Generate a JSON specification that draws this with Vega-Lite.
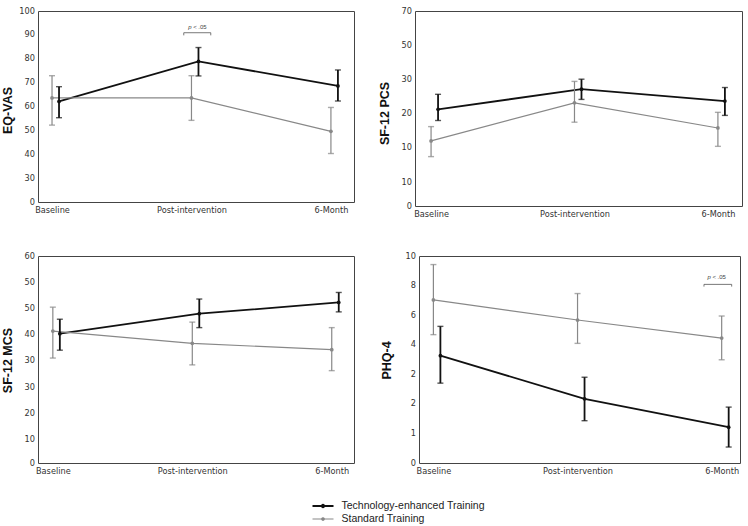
{
  "$schema": "https://vega.github.io/schema/vega-lite/v6.json",
  "padding": {"left": 0, "top": 5, "right": 0, "bottom": 0},
  "background": "white",
  "datasets": {
    "main": [
      {"measure": "EQ-VAS", "time": "Baseline", "group": "Technology-enhanced Training", "mean": 62.1, "lo": 55.3, "hi": 68.3},
      {"measure": "EQ-VAS", "time": "Post-intervention", "group": "Technology-enhanced Training", "mean": 78.9, "lo": 72.8, "hi": 84.7},
      {"measure": "EQ-VAS", "time": "6-Month", "group": "Technology-enhanced Training", "mean": 68.6, "lo": 62.3, "hi": 75.3},
      {"measure": "EQ-VAS", "time": "Baseline", "group": "Standard Training", "mean": 63.6, "lo": 52.2, "hi": 72.9},
      {"measure": "EQ-VAS", "time": "Post-intervention", "group": "Standard Training", "mean": 63.6, "lo": 54.2, "hi": 72.9},
      {"measure": "EQ-VAS", "time": "6-Month", "group": "Standard Training", "mean": 49.6, "lo": 40.3, "hi": 59.6},
      {"measure": "SF-12 PCS", "time": "Baseline", "group": "Technology-enhanced Training", "mean": 21.3, "lo": 18.0, "hi": 25.7},
      {"measure": "SF-12 PCS", "time": "Post-intervention", "group": "Technology-enhanced Training", "mean": 27.2, "lo": 24.2, "hi": 30.3},
      {"measure": "SF-12 PCS", "time": "6-Month", "group": "Technology-enhanced Training", "mean": 23.7, "lo": 19.5, "hi": 27.7},
      {"measure": "SF-12 PCS", "time": "Baseline", "group": "Standard Training", "mean": 12.0, "lo": 8.7, "hi": 16.2},
      {"measure": "SF-12 PCS", "time": "Post-intervention", "group": "Standard Training", "mean": 23.2, "lo": 17.5, "hi": 29.5},
      {"measure": "SF-12 PCS", "time": "6-Month", "group": "Standard Training", "mean": 15.8, "lo": 10.4, "hi": 20.4},
      {"measure": "SF-12 MCS", "time": "Baseline", "group": "Technology-enhanced Training", "mean": 40.4, "lo": 34.1, "hi": 45.9},
      {"measure": "SF-12 MCS", "time": "Post-intervention", "group": "Technology-enhanced Training", "mean": 48.0, "lo": 42.7, "hi": 53.6},
      {"measure": "SF-12 MCS", "time": "6-Month", "group": "Technology-enhanced Training", "mean": 52.3, "lo": 48.7, "hi": 56.1},
      {"measure": "SF-12 MCS", "time": "Baseline", "group": "Standard Training", "mean": 41.4, "lo": 31.1, "hi": 50.5},
      {"measure": "SF-12 MCS", "time": "Post-intervention", "group": "Standard Training", "mean": 36.7, "lo": 28.5, "hi": 44.8},
      {"measure": "SF-12 MCS", "time": "6-Month", "group": "Standard Training", "mean": 34.3, "lo": 26.3, "hi": 42.7},
      {"measure": "PHQ-4", "time": "Baseline", "group": "Technology-enhanced Training", "mean": 3.63, "lo": 2.70, "hi": 5.24},
      {"measure": "PHQ-4", "time": "Post-intervention", "group": "Technology-enhanced Training", "mean": 2.17, "lo": 1.43, "hi": 2.90},
      {"measure": "PHQ-4", "time": "6-Month", "group": "Technology-enhanced Training", "mean": 1.21, "lo": 0.54, "hi": 1.89},
      {"measure": "PHQ-4", "time": "Baseline", "group": "Standard Training", "mean": 7.03, "lo": 4.68, "hi": 9.42},
      {"measure": "PHQ-4", "time": "Post-intervention", "group": "Standard Training", "mean": 5.67, "lo": 4.09, "hi": 7.46},
      {"measure": "PHQ-4", "time": "6-Month", "group": "Standard Training", "mean": 4.45, "lo": 3.49, "hi": 5.94}
    ],
    "annot1": [{"measure": "EQ-VAS", "time": "Post-intervention", "ybar": 90.9, "yend": 89.8, "ytext": 93.4, "p": "p", "rest": "< .05"}],
    "annot4": [{"measure": "PHQ-4", "time": "6-Month", "ybar": 8.08, "yend": 7.93, "ytext": 8.55, "p": "p", "rest": "< .05"}]
  },
  "spacing": 32,
  "vconcat": [
    {
      "spacing": 22,
      "hconcat": [
        {
          "width": 316, "height": 191,
          "data": {"name": "main"},
          "transform": [{"filter": "datum.measure === 'EQ-VAS'"}],
          "encoding": {
            "x": {"field": "time", "type": "ordinal", "sort": ["Baseline", "Post-intervention", "6-Month"], "scale": {"type": "point", "padding": 0.133, "align": 0.378}, "axis": {"title": null, "labelAngle": 0, "labelOverlap": false}},
            "y": {"field": "mean", "type": "quantitative", "scale": {"domain": [0, 30, 100], "range": [191, 167.125, 0], "nice": false, "zero": false}, "axis": {"title": "EQ-VAS", "values": [0, 30, 40, 50, 60, 70, 80, 90, 100], "labelOverlap": false, "titleX": -27, "titleY": 99, "titleBaseline": "alphabetic", "titleAlign": "center"}}
          },
          "layer": [
            {"mark": {"type": "line"}, "encoding": {
              "xOffset": {"field": "group", "type": "nominal", "scale": {"type": "point", "domain": ["Standard Training", "Technology-enhanced Training"], "range": [0, 7], "padding": 0}},
              "color": {"field": "group", "type": "nominal", "scale": {"domain": ["Technology-enhanced Training", "Standard Training"], "range": ["#111111", "#888888"]}, "legend": {"orient": "none", "legendX": 273.5, "legendY": 489.5, "title": null, "direction": "vertical", "symbolType": "M-1,0H1M-0.12,0A0.12,0.12,0,1,1,0.12,0A0.12,0.12,0,1,1,-0.12,0Z", "symbolSize": 441, "labelFont": "Liberation Sans", "labelFontSize": 10.5, "labelColor": "#222", "clipHeight": 11, "rowPadding": 2, "labelOffset": 7}},
              "strokeWidth": {"field": "group", "type": "ordinal", "scale": {"domain": ["Technology-enhanced Training", "Standard Training"], "range": [1.8, 1.2]}, "legend": null}}},
            {"mark": {"type": "rule"}, "encoding": {
              "xOffset": {"field": "group", "type": "nominal", "scale": {"type": "point", "domain": ["Standard Training", "Technology-enhanced Training"], "range": [0, 7], "padding": 0}},
              "color": {"field": "group", "type": "nominal", "scale": {"domain": ["Technology-enhanced Training", "Standard Training"], "range": ["#111111", "#888888"]}, "legend": null},
              "y": {"field": "lo", "type": "quantitative"}, "y2": {"field": "hi"},
              "strokeWidth": {"field": "group", "type": "ordinal", "scale": {"domain": ["Technology-enhanced Training", "Standard Training"], "range": [1.8, 1.2]}, "legend": null}}},
            {"mark": {"type": "tick", "size": 6, "thickness": 1.4}, "encoding": {
              "xOffset": {"field": "group", "type": "nominal", "scale": {"type": "point", "domain": ["Standard Training", "Technology-enhanced Training"], "range": [0, 7], "padding": 0}},
              "color": {"field": "group", "type": "nominal", "scale": {"domain": ["Technology-enhanced Training", "Standard Training"], "range": ["#111111", "#888888"]}, "legend": null},
              "y": {"field": "lo", "type": "quantitative"}}},
            {"mark": {"type": "tick", "size": 6, "thickness": 1.4}, "encoding": {
              "xOffset": {"field": "group", "type": "nominal", "scale": {"type": "point", "domain": ["Standard Training", "Technology-enhanced Training"], "range": [0, 7], "padding": 0}},
              "color": {"field": "group", "type": "nominal", "scale": {"domain": ["Technology-enhanced Training", "Standard Training"], "range": ["#111111", "#888888"]}, "legend": null},
              "y": {"field": "hi", "type": "quantitative"}}},
            {"mark": {"type": "point", "filled": true, "opacity": 1, "size": 14}, "encoding": {
              "xOffset": {"field": "group", "type": "nominal", "scale": {"type": "point", "domain": ["Standard Training", "Technology-enhanced Training"], "range": [0, 7], "padding": 0}},
              "color": {"field": "group", "type": "nominal", "scale": {"domain": ["Technology-enhanced Training", "Standard Training"], "range": ["#111111", "#888888"]}, "legend": null}}},
            {"data": {"name": "annot1"}, "mark": {"type": "rule", "xOffset": -7.7, "x2Offset": 19.3, "color": "#555555", "strokeWidth": 0.8}, "encoding": {"x2": {"field": "time"}, "y": {"field": "ybar", "type": "quantitative"}}},
            {"data": {"name": "annot1"}, "mark": {"type": "rule", "xOffset": -7.7, "color": "#555555", "strokeWidth": 0.8}, "encoding": {"y": {"field": "ybar", "type": "quantitative"}, "y2": {"field": "yend"}}},
            {"data": {"name": "annot1"}, "mark": {"type": "rule", "xOffset": 19.3, "color": "#555555", "strokeWidth": 0.8}, "encoding": {"y": {"field": "ybar", "type": "quantitative"}, "y2": {"field": "yend"}}},
            {"data": {"name": "annot1"}, "mark": {"type": "text", "align": "left", "baseline": "middle", "xOffset": -3.3, "fontStyle": "italic", "font": "Liberation Sans", "fontSize": 6, "color": "#444444"}, "encoding": {"y": {"field": "ytext", "type": "quantitative"}, "text": {"field": "p"}}},
            {"data": {"name": "annot1"}, "mark": {"type": "text", "align": "left", "baseline": "middle", "xOffset": 1.7, "font": "Liberation Sans", "fontSize": 6, "color": "#444444"}, "encoding": {"y": {"field": "ytext", "type": "quantitative"}, "text": {"field": "rest"}}}
          ]
        },
        {
          "width": 327, "height": 195,
          "data": {"name": "main"},
          "transform": [{"filter": "datum.measure === 'SF-12 PCS'"}],
          "encoding": {
            "x": {"field": "time", "type": "ordinal", "sort": ["Baseline", "Post-intervention", "6-Month"], "scale": {"type": "point", "padding": 0.14, "align": 0.4}, "axis": {"title": null, "labelAngle": 0, "labelOverlap": false}},
            "xOffset": {"field": "group", "type": "nominal", "scale": {"type": "point", "domain": ["Standard Training", "Technology-enhanced Training"], "range": [0, 6.5], "padding": 0}},
            "color": {"field": "group", "type": "nominal", "scale": {"domain": ["Technology-enhanced Training", "Standard Training"], "range": ["#111111", "#888888"]}, "legend": null},
            "y": {"field": "mean", "type": "quantitative", "scale": {"domain": [0, 5, 10, 30, 70], "range": [195, 171, 136.7, 68.7, 0], "nice": false, "zero": false}, "axis": {"title": "SF-12 PCS", "values": [0, 5, 10, 20, 30, 50, 70], "labelOverlap": false, "labelExpr": "datum.value === 5 ? '10' : datum.label", "titleX": -27, "titleY": 102, "titleBaseline": "alphabetic", "titleAlign": "center"}}
          },
          "layer": [
            {"mark": {"type": "line"}, "encoding": {"strokeWidth": {"field": "group", "type": "ordinal", "scale": {"domain": ["Technology-enhanced Training", "Standard Training"], "range": [1.8, 1.2]}, "legend": null}}},
            {"mark": {"type": "rule"}, "encoding": {"y": {"field": "lo", "type": "quantitative"}, "y2": {"field": "hi"}, "strokeWidth": {"field": "group", "type": "ordinal", "scale": {"domain": ["Technology-enhanced Training", "Standard Training"], "range": [1.8, 1.2]}, "legend": null}}},
            {"mark": {"type": "tick", "size": 6, "thickness": 1.4}, "encoding": {"y": {"field": "lo", "type": "quantitative"}}},
            {"mark": {"type": "tick", "size": 6, "thickness": 1.4}, "encoding": {"y": {"field": "hi", "type": "quantitative"}}},
            {"mark": {"type": "point", "filled": true, "opacity": 1, "size": 14}}
          ]
        }
      ]
    },
    {
      "spacing": 24,
      "hconcat": [
        {
          "width": 316, "height": 207,
          "data": {"name": "main"},
          "transform": [{"filter": "datum.measure === 'SF-12 MCS'"}],
          "encoding": {
            "x": {"field": "time", "type": "ordinal", "sort": ["Baseline", "Post-intervention", "6-Month"], "scale": {"type": "point", "padding": 0.133, "align": 0.4}, "axis": {"title": null, "labelAngle": 0, "labelOverlap": false}},
            "xOffset": {"field": "group", "type": "nominal", "scale": {"type": "point", "domain": ["Standard Training", "Technology-enhanced Training"], "range": [0, 7], "padding": 0}},
            "color": {"field": "group", "type": "nominal", "scale": {"domain": ["Technology-enhanced Training", "Standard Training"], "range": ["#111111", "#888888"]}, "legend": null},
            "y": {"field": "mean", "type": "quantitative", "scale": {"domain": [-8.9, 70], "nice": false, "zero": false}, "axis": {"title": "SF-12 MCS", "values": [-8.9, 0, 10, 20, 30, 40, 50, 60, 70], "labelOverlap": false, "labelExpr": "['0','10','20','30','30','40','50','50','60'][indexof([-8.9,0,10,20,30,40,50,60,70], datum.value)]", "titleX": -27, "titleY": 104, "titleBaseline": "alphabetic", "titleAlign": "center"}}
          },
          "layer": [
            {"mark": {"type": "line"}, "encoding": {"strokeWidth": {"field": "group", "type": "ordinal", "scale": {"domain": ["Technology-enhanced Training", "Standard Training"], "range": [1.8, 1.2]}, "legend": null}}},
            {"mark": {"type": "rule"}, "encoding": {"y": {"field": "lo", "type": "quantitative"}, "y2": {"field": "hi"}, "strokeWidth": {"field": "group", "type": "ordinal", "scale": {"domain": ["Technology-enhanced Training", "Standard Training"], "range": [1.8, 1.2]}, "legend": null}}},
            {"mark": {"type": "tick", "size": 6, "thickness": 1.4}, "encoding": {"y": {"field": "lo", "type": "quantitative"}}},
            {"mark": {"type": "tick", "size": 6, "thickness": 1.4}, "encoding": {"y": {"field": "hi", "type": "quantitative"}}},
            {"mark": {"type": "point", "filled": true, "opacity": 1, "size": 14}}
          ]
        },
        {
          "width": 321, "height": 207,
          "data": {"name": "main"},
          "transform": [{"filter": "datum.measure === 'PHQ-4'"}],
          "encoding": {
            "x": {"field": "time", "type": "ordinal", "sort": ["Baseline", "Post-intervention", "6-Month"], "scale": {"type": "point", "padding": 0.1135, "align": 0.44}, "axis": {"title": null, "labelAngle": 0, "labelOverlap": false}},
            "y": {"field": "mean", "type": "quantitative", "scale": {"domain": [0, 4, 10], "range": [207, 88.7, 0], "nice": false, "zero": false}, "axis": {"title": "PHQ-4", "values": [0, 1, 2, 3, 4, 6, 8, 10], "labelOverlap": false, "labelExpr": "datum.value === 3 ? '2' : datum.label", "titleX": -29, "titleY": 104, "titleBaseline": "alphabetic", "titleAlign": "center"}}
          },
          "layer": [
            {"mark": {"type": "line"}, "encoding": {
              "xOffset": {"field": "group", "type": "nominal", "scale": {"type": "point", "domain": ["Standard Training", "Technology-enhanced Training"], "range": [0, 2.5], "padding": 0}},
              "color": {"field": "group", "type": "nominal", "scale": {"domain": ["Technology-enhanced Training", "Standard Training"], "range": ["#111111", "#888888"]}, "legend": null},
              "strokeWidth": {"field": "group", "type": "ordinal", "scale": {"domain": ["Technology-enhanced Training", "Standard Training"], "range": [1.8, 1.2]}, "legend": null}}},
            {"mark": {"type": "rule"}, "encoding": {
              "xOffset": {"field": "group", "type": "nominal", "scale": {"type": "point", "domain": ["Standard Training", "Technology-enhanced Training"], "range": [0, 2.5], "padding": 0}},
              "color": {"field": "group", "type": "nominal", "scale": {"domain": ["Technology-enhanced Training", "Standard Training"], "range": ["#111111", "#888888"]}, "legend": null},
              "y": {"field": "lo", "type": "quantitative"}, "y2": {"field": "hi"},
              "strokeWidth": {"field": "group", "type": "ordinal", "scale": {"domain": ["Technology-enhanced Training", "Standard Training"], "range": [1.8, 1.2]}, "legend": null}}},
            {"mark": {"type": "tick", "size": 6, "thickness": 1.4}, "encoding": {
              "xOffset": {"field": "group", "type": "nominal", "scale": {"type": "point", "domain": ["Standard Training", "Technology-enhanced Training"], "range": [0, 2.5], "padding": 0}},
              "color": {"field": "group", "type": "nominal", "scale": {"domain": ["Technology-enhanced Training", "Standard Training"], "range": ["#111111", "#888888"]}, "legend": null},
              "y": {"field": "lo", "type": "quantitative"}}},
            {"mark": {"type": "tick", "size": 6, "thickness": 1.4}, "encoding": {
              "xOffset": {"field": "group", "type": "nominal", "scale": {"type": "point", "domain": ["Standard Training", "Technology-enhanced Training"], "range": [0, 2.5], "padding": 0}},
              "color": {"field": "group", "type": "nominal", "scale": {"domain": ["Technology-enhanced Training", "Standard Training"], "range": ["#111111", "#888888"]}, "legend": null},
              "y": {"field": "hi", "type": "quantitative"}}},
            {"mark": {"type": "point", "filled": true, "opacity": 1, "size": 14}, "encoding": {
              "xOffset": {"field": "group", "type": "nominal", "scale": {"type": "point", "domain": ["Standard Training", "Technology-enhanced Training"], "range": [0, 2.5], "padding": 0}},
              "color": {"field": "group", "type": "nominal", "scale": {"domain": ["Technology-enhanced Training", "Standard Training"], "range": ["#111111", "#888888"]}, "legend": null}}},
            {"data": {"name": "annot4"}, "mark": {"type": "rule", "xOffset": -17.7, "x2Offset": 10, "color": "#555555", "strokeWidth": 0.8}, "encoding": {"x2": {"field": "time"}, "y": {"field": "ybar", "type": "quantitative"}}},
            {"data": {"name": "annot4"}, "mark": {"type": "rule", "xOffset": -17.7, "color": "#555555", "strokeWidth": 0.8}, "encoding": {"y": {"field": "ybar", "type": "quantitative"}, "y2": {"field": "yend"}}},
            {"data": {"name": "annot4"}, "mark": {"type": "rule", "xOffset": 10, "color": "#555555", "strokeWidth": 0.8}, "encoding": {"y": {"field": "ybar", "type": "quantitative"}, "y2": {"field": "yend"}}},
            {"data": {"name": "annot4"}, "mark": {"type": "text", "align": "left", "baseline": "middle", "xOffset": -14.3, "fontStyle": "italic", "font": "Liberation Sans", "fontSize": 6, "color": "#444444"}, "encoding": {"y": {"field": "ytext", "type": "quantitative"}, "text": {"field": "p"}}},
            {"data": {"name": "annot4"}, "mark": {"type": "text", "align": "left", "baseline": "middle", "xOffset": -9.3, "font": "Liberation Sans", "fontSize": 6, "color": "#444444"}, "encoding": {"y": {"field": "ytext", "type": "quantitative"}, "text": {"field": "rest"}}}
          ]
        }
      ]
    }
  ],
  "config": {
    "view": {"stroke": "#444444", "strokeWidth": 1},
    "font": "DejaVu Sans",
    "axis": {"domain": false, "ticks": false, "grid": false, "labelFont": "DejaVu Sans", "labelFontSize": 8.2, "labelColor": "#333333", "labelPadding": 4, "labelOverlap": false, "titleFont": "Liberation Sans", "titleFontSize": 12.5, "titleFontWeight": "bold", "titleColor": "#111111"},
    "axisY": {"labelPadding": 3.5}
  }
}
